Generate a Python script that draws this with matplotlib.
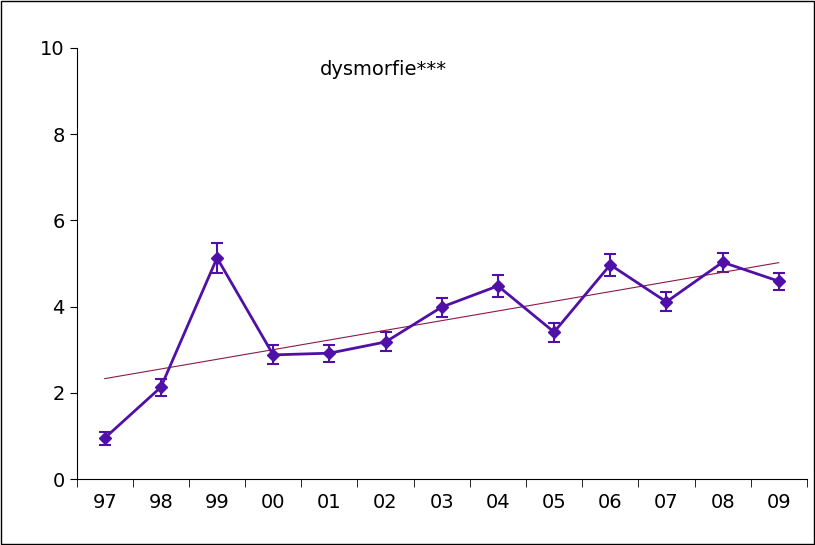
import matplotlib
matplotlib.use("Agg")
import matplotlib.pyplot as plt
import numpy as np

years = ["97","98","99","00","01","02","03","04","05","06","07","08","09"]
values = [0.95,2.13,5.13,2.88,2.92,3.18,3.99,4.48,3.41,4.97,4.11,5.03,4.59]
errors = [0.15,0.2,0.35,0.22,0.2,0.22,0.22,0.25,0.22,0.25,0.22,0.22,0.2]

fig = plt.figure(figsize=(8.15,5.45), dpi=100)
fig.patches.append(plt.Rectangle((0.001,0.001),0.998,0.998,transform=fig.transFigure,fill=False,edgecolor="black",lw=1))
ax = fig.add_axes([0.094,0.121,0.896,0.791])
x = np.arange(len(years))
col = "#5010A8"
ax.errorbar(x, values, yerr=errors, color=col, marker="D", ms=6, lw=2, capsize=4, capthick=1.5, elinewidth=1.5)
m, b = np.polyfit(x, values, 1)
ax.plot(x, m*x+b, color="#8B1A4A", lw=0.8)
ax.set_xlim(-0.5, len(years)-0.5)
ax.set_ylim(0, 10)
ax.set_yticks([0,2,4,6,8,10])
ax.set_xticks(x)
ax.set_xticklabels(years)
ax.set_xticks(np.arange(-0.5, len(years)), minor=True)
ax.tick_params(axis="x", which="major", length=0, pad=10, labelsize=14)
ax.tick_params(axis="x", which="minor", length=6, direction="out")
ax.tick_params(axis="y", labelsize=14, length=5, direction="out")
for s in ["top","right"]:
    ax.spines[s].set_visible(False)
ax.text(0.42, 0.95, "dysmorfie***", transform=ax.transAxes, ha="center", va="center", fontsize=14)
fig.savefig("out.png")
